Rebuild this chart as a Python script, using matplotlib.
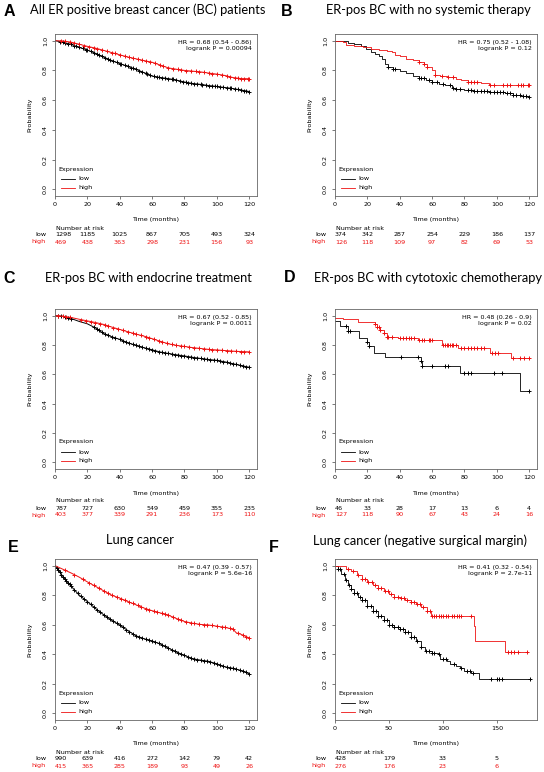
import numpy as np
import matplotlib.pyplot as plt
from matplotlib import transforms
from matplotlib.lines import Line2D

W, H = 544, 772
RED = '#ee1111'
R_FONT = 'DejaVu Sans'
TITLE_FONT = 'Lato'
RS = 4.6  # size of the small R-style text

# ---------------- data ----------------
# A: all ER positive BC
a_low_t = [0, 5, 10, 15, 20, 25, 30, 35, 40, 45, 50, 55, 60, 65, 70, 75, 80, 85, 90, 95, 100, 105, 110, 115, 120]
a_low_s = [1.0, 0.99, 0.975, 0.955, 0.937, 0.915, 0.89, 0.866, 0.846, 0.827, 0.808, 0.785, 0.762, 0.752, 0.745,
           0.735, 0.722, 0.712, 0.706, 0.698, 0.692, 0.685, 0.678, 0.668, 0.658]
a_high_t = a_low_t
a_high_s = [1.0, 0.998, 0.99, 0.976, 0.962, 0.95, 0.935, 0.92, 0.905, 0.89, 0.878, 0.866, 0.855, 0.836, 0.817,
            0.808, 0.80, 0.795, 0.79, 0.782, 0.775, 0.766, 0.752, 0.745, 0.744]
a_low_cens = [3, 5, 6, 8, 10, 12, 13, 15, 17, 19, 20, 22, 24, 26, 27, 29, 31, 33, 34, 36, 38, 40, 41, 43, 45, 47,
              48, 50, 52, 54, 56, 57, 59, 61, 63, 64, 66, 68, 70, 72, 73, 75, 77, 79, 81, 82, 84, 86, 88, 90, 91,
              93, 95, 97, 99, 100, 102, 104, 106, 108, 109, 111, 113, 115, 117, 118, 120]
a_high_cens = [4, 6, 9, 12, 15, 18, 21, 24, 26, 29, 32, 35, 37, 40, 43, 46, 48, 51, 54, 56, 59, 62, 65, 67, 70, 73,
               76, 78, 81, 84, 87, 89, 92, 95, 97, 100, 103, 106, 108, 111, 113, 115, 117, 119, 120]
a_hr = ["HR = 0.68 (0.54 - 0.86)", "logrank P = 0.00094"]
a_risk_t = [0, 20, 40, 60, 80, 100, 120]
a_risk_low = [1298, 1185, 1025, 867, 705, 493, 324]
a_risk_high = [469, 438, 363, 298, 231, 156, 93]

# B: ER-pos, no systemic therapy
b_low_t = [0, 5, 8, 12, 16, 19, 22, 25, 27, 29, 31, 33, 36, 40, 44, 48, 52, 56, 60, 64, 68, 72, 75, 80, 85,
           95, 100, 105, 110, 115, 120]
b_low_s = [1.0, 0.995, 0.985, 0.975, 0.965, 0.945, 0.925, 0.91, 0.895, 0.875, 0.845, 0.825, 0.81, 0.795, 0.78,
           0.765, 0.75, 0.735, 0.72, 0.708, 0.70, 0.685, 0.675, 0.665, 0.66, 0.657, 0.652, 0.645, 0.635, 0.628, 0.62]
b_high_t = [0, 5, 7, 12, 17, 22, 27, 32, 35, 37, 40, 44, 48, 52, 55, 57, 60, 62, 65, 70, 75, 78, 82, 90, 95, 120]
b_high_s = [1.0, 0.99, 0.97, 0.965, 0.955, 0.945, 0.94, 0.93, 0.925, 0.905, 0.895, 0.88, 0.87, 0.855, 0.84,
            0.825, 0.805, 0.77, 0.76, 0.755, 0.745, 0.735, 0.72, 0.712, 0.70, 0.70]
b_low_cens = [33, 36, 37, 52, 53, 55, 58, 60, 63, 67, 71, 73, 75, 77, 82, 84, 86, 88, 90, 92, 94, 96, 98, 100,
              102, 104, 106, 108, 110, 112, 114, 116, 118, 120]
b_high_cens = [52, 55, 57, 62, 66, 70, 73, 82, 84, 86, 88, 96, 98, 104, 106, 108, 113, 115, 116, 119, 120]
b_hr = ["HR = 0.75 (0.52 - 1.08)", "logrank P = 0.12"]
b_risk_t = [0, 20, 40, 60, 80, 100, 120]
b_risk_low = [374, 342, 287, 254, 229, 186, 137]
b_risk_high = [126, 118, 109, 97, 82, 69, 53]

# C: ER-pos, endocrine treatment
c_low_t = a_low_t
c_low_s = [1.0, 0.995, 0.98, 0.96, 0.944, 0.916, 0.878, 0.856, 0.838, 0.815, 0.797, 0.781, 0.767, 0.752, 0.742,
           0.733, 0.725, 0.716, 0.708, 0.701, 0.695, 0.685, 0.672, 0.66, 0.648]
c_high_t = a_low_t
c_high_s = [1.0, 0.996, 0.987, 0.975, 0.964, 0.953, 0.94, 0.922, 0.906, 0.89, 0.874, 0.86, 0.843, 0.825, 0.808,
            0.797, 0.79, 0.782, 0.776, 0.77, 0.766, 0.762, 0.758, 0.755, 0.753]
c_low_cens = [2, 4, 6, 8, 10, 24, 26, 27, 29, 31, 33, 35, 37, 40, 42, 44, 46, 48, 50, 52, 54, 56, 58, 60, 62, 64,
              66, 68, 70, 72, 74, 76, 78, 80, 82, 84, 86, 88, 90, 92, 94, 96, 98, 100, 102, 104, 106, 108, 110,
              112, 114, 116, 118, 120]
c_high_cens = [2, 5, 7, 9, 16, 19, 22, 25, 28, 31, 33, 36, 39, 42, 45, 48, 50, 53, 56, 58, 61, 64, 66, 69, 72,
               75, 78, 80, 83, 86, 89, 92, 95, 97, 100, 103, 106, 109, 112, 115, 117, 120]
c_hr = ["HR = 0.67 (0.52 - 0.85)", "logrank P = 0.0011"]
c_risk_t = [0, 20, 40, 60, 80, 100, 120]
c_risk_low = [787, 727, 630, 549, 459, 355, 235]
c_risk_high = [403, 377, 339, 291, 236, 173, 110]

# D: ER-pos, cytotoxic chemotherapy
d_low_t = [0, 3, 8, 15, 20, 21, 24, 31, 53, 54, 77, 114, 120]
d_low_s = [0.965, 0.93, 0.897, 0.846, 0.82, 0.795, 0.745, 0.716, 0.69, 0.66, 0.612, 0.486, 0.486]
d_high_t = [0, 5, 14, 25, 26, 28, 30, 32, 39, 51, 66, 76, 96, 109, 120]
d_high_s = [0.985, 0.975, 0.957, 0.94, 0.92, 0.90, 0.88, 0.855, 0.845, 0.835, 0.80, 0.78, 0.748, 0.712, 0.712]
d_low_cens = [7, 8, 9, 20, 21, 41, 51, 53, 54, 60, 68, 70, 80, 82, 84, 98, 103, 120]
d_high_cens = [25, 26, 27, 28, 30, 32, 33, 35, 40, 42, 44, 46, 47, 49, 52, 54, 55, 58, 59, 60, 67, 68, 69, 70,
               71, 72, 73, 75, 78, 80, 82, 84, 86, 88, 90, 92, 97, 99, 101, 110, 114, 117, 120]
d_hr = ["HR = 0.48 (0.26 - 0.9)", "logrank P = 0.02"]
d_risk_t = [0, 20, 40, 60, 80, 100, 120]
d_risk_low = [46, 33, 28, 17, 13, 6, 4]
d_risk_high = [127, 118, 90, 67, 43, 24, 16]

# E: lung cancer
e_low_t = [0, 2, 5, 8, 10, 15, 20, 25, 30, 35, 40, 45, 50, 55, 60, 65, 70, 75, 80, 85, 90, 95, 100, 105, 110, 115, 120]
e_low_s = [1.0, 0.97, 0.925, 0.885, 0.86, 0.80, 0.757, 0.71, 0.668, 0.63, 0.598, 0.56, 0.525, 0.505, 0.49,
           0.47, 0.442, 0.415, 0.392, 0.37, 0.36, 0.352, 0.335, 0.315, 0.305, 0.29, 0.268]
e_high_t = [0, 5, 10, 15, 20, 25, 30, 35, 40, 45, 50, 55, 60, 65, 70, 75, 80, 85, 90, 95, 100, 105, 110, 112, 115, 120]
e_high_s = [1.0, 0.975, 0.95, 0.922, 0.89, 0.86, 0.83, 0.80, 0.78, 0.757, 0.735, 0.713, 0.695, 0.68, 0.665,
            0.642, 0.622, 0.61, 0.602, 0.598, 0.59, 0.582, 0.57, 0.545, 0.535, 0.51]
e_low_cens = [1, 2, 3, 4, 5, 6, 7, 8, 9, 10, 12, 14, 16, 18, 20, 22, 24, 26, 28, 30, 32, 34, 36, 38, 40, 42, 44,
              46, 48, 50, 52, 54, 56, 58, 60, 62, 64, 66, 68, 70, 72, 74, 76, 78, 80, 82, 84, 86, 88, 90, 92, 94,
              96, 98, 100, 102, 104, 106, 108, 110, 112, 114, 116, 118, 120]
e_high_cens = [6, 12, 17, 21, 24, 27, 30, 33, 35, 38, 41, 43, 46, 48, 51, 53, 56, 58, 61, 63, 66, 68, 70, 73, 76,
               78, 81, 84, 86, 89, 92, 94, 97, 100, 103, 105, 108, 110, 113, 116, 118, 120]
e_hr = ["HR = 0.47 (0.39 - 0.57)", "logrank P = 5.6e-16"]
e_risk_t = [0, 20, 40, 60, 80, 100, 120]
e_risk_low = [990, 639, 416, 272, 142, 79, 42]
e_risk_high = [415, 365, 285, 189, 93, 49, 26]

# F: lung cancer, negative surgical margin
f_low_t = [0, 3, 6, 9, 12, 15, 18, 21, 25, 30, 35, 40, 45, 50, 55, 60, 65, 70, 75, 80, 83, 90, 95, 97, 104, 107,
           112, 116, 120, 126, 133, 181]
f_low_s = [1.0, 0.975, 0.945, 0.905, 0.87, 0.84, 0.815, 0.79, 0.765, 0.725, 0.695, 0.66, 0.635, 0.60, 0.585,
           0.57, 0.55, 0.52, 0.49, 0.45, 0.42, 0.41, 0.40, 0.37, 0.355, 0.335, 0.32, 0.305, 0.29, 0.272, 0.235, 0.235]
f_high_t = [0, 5, 10, 15, 20, 25, 30, 35, 40, 45, 50, 55, 60, 65, 70, 75, 80, 85, 89, 129, 130, 158, 178]
f_high_s = [1.0, 0.995, 0.98, 0.965, 0.94, 0.91, 0.89, 0.868, 0.848, 0.83, 0.81, 0.79, 0.78, 0.768, 0.755,
            0.74, 0.72, 0.69, 0.66, 0.59, 0.49, 0.415, 0.415]
f_low_cens = [3, 5, 8, 10, 13, 15, 18, 20, 23, 25, 28, 30, 33, 35, 38, 40, 43, 45, 48, 50, 53, 55, 58, 60, 63, 65,
              68, 70, 73, 76, 80, 84, 87, 90, 92, 96, 100, 103, 110, 117, 122, 125, 128, 145, 150, 152, 155, 181]
f_high_cens = [12, 17, 21, 25, 28, 31, 34, 37, 40, 43, 46, 49, 52, 55, 58, 61, 64, 67, 70, 73, 76, 79, 82, 85,
               88, 90, 92, 94, 96, 98, 100, 103, 105, 108, 110, 113, 115, 117, 126, 160, 163, 166, 170, 178]
f_hr = ["HR = 0.41 (0.32 - 0.54)", "logrank P = 2.7e-11"]
f_risk_t = [0, 50, 100, 150]
f_risk_low = [428, 179, 33, 5]
f_risk_high = [276, 176, 23, 6]

titles = ["All ER positive breast cancer (BC) patients", "ER-pos BC with no systemic therapy",
          "ER-pos BC with endocrine treatment", "ER-pos BC with cytotoxic chemotherapy",
          "Lung cancer", "Lung cancer (negative surgical margin)"]
letters = ["A", "B", "C", "D", "E", "F"]
x_max = [120, 120, 120, 120, 120, 180]

# ---------------- layout (pixels) ----------------
boxes = [(55, 34, 257, 196), (335, 34, 537, 196),
         (55, 309, 257, 469), (335, 309, 537, 469),
         (55, 559, 257, 720), (335, 559, 537, 720)]
title_pos = [(148, 10), (428, 10), (148, 278), (428, 278), (140, 540), (420, 541)]
letter_pos = [(9, 12), (287, 12), (9, 279), (290, 278), (13, 548), (274, 547)]

# steps=False for the big cohorts, whose many tiny steps read as a smooth line
panels = [
    (a_low_t, a_low_s, a_high_t, a_high_s, a_low_cens, a_high_cens, a_hr, a_risk_t, a_risk_low, a_risk_high, False),
    (b_low_t, b_low_s, b_high_t, b_high_s, b_low_cens, b_high_cens, b_hr, b_risk_t, b_risk_low, b_risk_high, True),
    (c_low_t, c_low_s, c_high_t, c_high_s, c_low_cens, c_high_cens, c_hr, c_risk_t, c_risk_low, c_risk_high, False),
    (d_low_t, d_low_s, d_high_t, d_high_s, d_low_cens, d_high_cens, d_hr, d_risk_t, d_risk_low, d_risk_high, True),
    (e_low_t, e_low_s, e_high_t, e_high_s, e_low_cens, e_high_cens, e_hr, e_risk_t, e_risk_low, e_risk_high, False),
    (f_low_t, f_low_s, f_high_t, f_high_s, f_low_cens, f_high_cens, f_hr, f_risk_t, f_risk_low, f_risk_high, True),
]

fig = plt.figure(figsize=(W / 100, H / 100), dpi=100)
fig.patch.set_facecolor('white')


def fx(x):
    return x / W


def fy(y):
    return 1 - y / H


def km(ax, t, s, cens, color, steps):
    t = np.asarray(t, float)
    s = np.asarray(s, float)
    if steps:
        ax.step(t, s, where='post', color=color, lw=0.6)
    else:
        ax.plot(t, s, color=color, lw=0.7)
    c = np.asarray(cens, float)
    # censor marks sit on the curve
    if steps:
        idx = np.clip(np.searchsorted(t, c, side='right') - 1, 0, len(s) - 1)
        cy = s[idx]
    else:
        cy = np.interp(c, t, s)
    ax.plot(c, cy, ls='none', marker='+', ms=3.4, mew=0.7, color=color)


for i, (lt, ls_, ht, hs, lc, hc, hr, rt, rl, rh, steps) in enumerate(panels):
    x0, y0, x1, y1 = boxes[i]
    ax = fig.add_axes([fx(x0), fy(y1), (x1 - x0) / W, (y1 - y0) / H])
    km(ax, lt, ls_, lc, 'black', steps)
    km(ax, ht, hs, hc, RED, steps)
    ax.set_xlim(0, x_max[i] * 1.04)
    ax.set_ylim(-0.045, 1.045)
    ax.set_xticks(rt)
    ax.set_xticklabels([str(v) for v in rt])
    ax.set_yticks([0, 0.2, 0.4, 0.6, 0.8, 1.0])
    ax.set_yticklabels(['0.0', '0.2', '0.4', '0.6', '0.8', '1.0'], rotation=90, va='center')
    ax.tick_params(axis='both', labelsize=RS, length=2, width=0.5, color='#444444', direction='out')
    ax.tick_params(axis='x', pad=2)
    ax.tick_params(axis='y', pad=3)
    for lab in ax.get_xticklabels() + ax.get_yticklabels():
        lab.set_family(R_FONT)
    for sp in ax.spines.values():
        sp.set_color('#666666')
        sp.set_linewidth(0.6)

    # HR / p-value
    ax.text(1 - 5 / (x1 - x0), 1 - 11.5 / (y1 - y0), hr[0] + "\n" + hr[1], transform=ax.transAxes,
            ha='right', va='center', fontsize=RS, family=R_FONT, linespacing=1.4)

    # axis labels
    fig.text(fx((x0 + x1) / 2), fy(y1 + 24), "Time (months)", ha='center', va='center', fontsize=RS, family=R_FONT)
    fig.text(fx(x0 - 25), fy((y0 + y1) / 2), "Probability", ha='center', va='center', rotation=90,
             fontsize=RS, family=R_FONT)

    # legend
    fig.text(fx(x0 + 3), fy(y1 - 27), "Expression", ha='left', va='center', fontsize=RS, family=R_FONT)
    for k, (lab, col) in enumerate([("low", 'black'), ("high", RED)]):
        yy = y1 - 17 + k * 8.5
        fig.add_artist(Line2D([fx(x0 + 6), fx(x0 + 20)], [fy(yy), fy(yy)], color=col, lw=0.6,
                              transform=fig.transFigure))
        fig.text(fx(x0 + 23), fy(yy), lab, ha='left', va='center', fontsize=RS, family=R_FONT)

    # number at risk table
    trans = transforms.blended_transform_factory(ax.transData, fig.transFigure)
    fig.text(fx(x0 + 1), fy(y1 + 32), "Number at risk", ha='left', va='center', fontsize=RS, family=R_FONT)
    fig.text(fx(x0 - 9), fy(y1 + 39), "low", ha='right', va='center', fontsize=RS, family=R_FONT)
    fig.text(fx(x0 - 9), fy(y1 + 46), "high", ha='right', va='center', fontsize=RS, family=R_FONT, color=RED)
    for j, tv in enumerate(rt):
        ha = 'left' if j == 0 else 'center'
        ax.text(tv, fy(y1 + 39), str(rl[j]), transform=trans, ha=ha, va='center', fontsize=RS,
                family=R_FONT, clip_on=False)
        ax.text(tv, fy(y1 + 46), str(rh[j]), transform=trans, ha=ha, va='center', fontsize=RS,
                family=R_FONT, color=RED, clip_on=False)

    # titles and panel letters
    tx, ty = title_pos[i]
    fig.text(fx(tx), fy(ty), titles[i], ha='center', va='center', fontsize=9.3, family=TITLE_FONT)
    lx, ly = letter_pos[i]
    fig.text(fx(lx), fy(ly), letters[i], ha='center', va='center', fontsize=11.5, fontweight='bold',
             family='Liberation Sans')

fig.savefig("out.png", dpi=100)
